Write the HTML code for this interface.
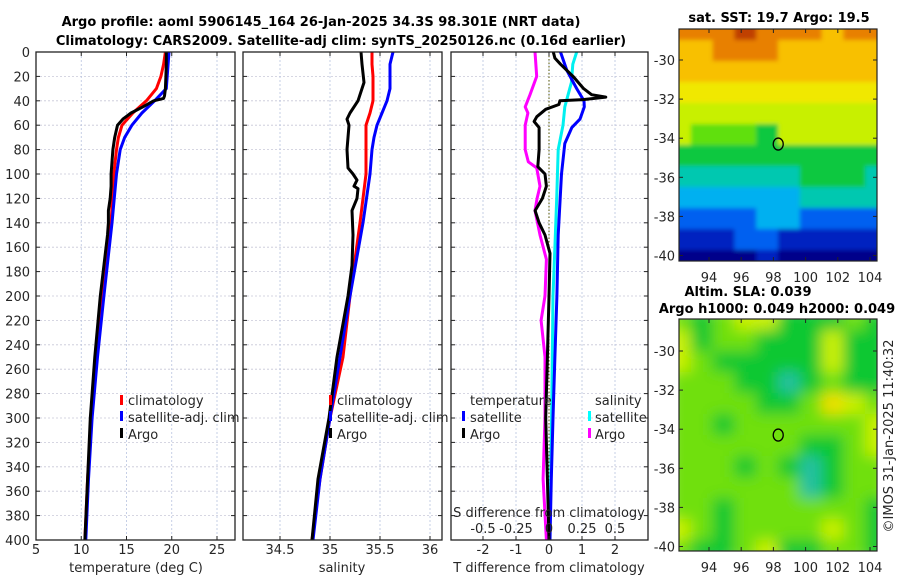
<!DOCTYPE html>
<html><head><meta charset="utf-8"><style>
body{margin:0;background:#fff}
svg{display:block;font-family:"DejaVu Sans","Liberation Sans",sans-serif}
</style></head><body>
<svg id="chart" width="900" height="580" viewBox="0 0 900 580" xmlns="http://www.w3.org/2000/svg">
<defs>
<filter id="blur" x="-5%" y="-5%" width="110%" height="110%"><feGaussianBlur stdDeviation="7"/></filter>
<filter id="blur2" x="-5%" y="-5%" width="110%" height="110%"><feGaussianBlur stdDeviation="2"/></filter>
<clipPath id="clipA"><rect x="679" y="29" width="198" height="232"/></clipPath>
<clipPath id="clipB"><rect x="679" y="319" width="198" height="232"/></clipPath>
</defs>
<g id="g"></g>
<g font-size="13" fill="#262626" font-family="DejaVu Sans, Liberation Sans, sans-serif">
<text x="321" y="26" text-anchor="middle" font-weight="bold" fill="#000">Argo profile: aoml 5906145_164 26-Jan-2025 34.3S 98.301E (NRT data)</text>
<text x="341" y="45" text-anchor="middle" font-weight="bold" fill="#000">Climatology: CARS2009. Satellite-adj clim: synTS_20250126.nc (0.16d earlier)</text>
<text x="136" y="572" text-anchor="middle">temperature (deg C)</text>
<text x="342" y="572" text-anchor="middle">salinity</text>
<text x="549" y="572" text-anchor="middle">T difference from climatology</text>
<text x="549" y="517" text-anchor="middle">S difference from climatology</text>
<g>
<rect x="120" y="395" width="3" height="10" fill="#f00"/><text x="128" y="405">climatology</text>
<rect x="120" y="411" width="3" height="10" fill="#00f"/><text x="128" y="422">satellite-adj. clim</text>
<rect x="120" y="428" width="3" height="10" fill="#000"/><text x="128" y="439">Argo</text>
</g>
<g>
<rect x="329" y="395" width="3" height="10" fill="#f00"/><text x="337" y="405">climatology</text>
<rect x="329" y="411" width="3" height="10" fill="#00f"/><text x="337" y="422">satellite-adj. clim</text>
<rect x="329" y="428" width="3" height="10" fill="#000"/><text x="337" y="439">Argo</text>
</g>
<g>
<text x="470" y="405">temperature</text>
<rect x="462" y="411" width="3" height="10" fill="#00f"/><text x="470" y="422">satellite</text>
<rect x="462" y="428" width="3" height="10" fill="#000"/><text x="470" y="439">Argo</text>
<text x="595" y="405">salinity</text>
<rect x="588" y="411" width="3" height="10" fill="#0ff"/><text x="595" y="422">satellite</text>
<rect x="588" y="428" width="3" height="10" fill="#f0f"/><text x="595" y="439">Argo</text>
</g>
<text x="779" y="22" text-anchor="middle" font-weight="bold" fill="#000">sat. SST: 19.7 Argo: 19.5</text>
<text x="748" y="296" text-anchor="middle" font-weight="bold" fill="#000">Altim. SLA: 0.039</text>
<text x="777" y="313" text-anchor="middle" font-weight="bold" fill="#000">Argo h1000: 0.049 h2000: 0.049</text>
<text x="893" y="436" text-anchor="middle" transform="rotate(-90 893 436)">©IMOS 31-Jan-2025 11:40:32</text>
</g>
</svg>
<script>
// ---- data ----
const depthTicks=[0,20,40,60,80,100,120,140,160,180,200,220,240,260,280,300,320,340,360,380,400];
const tempTicks=[5,10,15,20,25];
const salTicks=[34.5,35,35.5,36];
const tdiffTicks=[-2,-1,0,1,2];
const sdiffTicks=[-0.5,-0.25,0,0.25,0.5];
const sdiffLabels=["-0.5","-0.25","0","0.25","0.5"];
const lonTicks=[94,96,98,100,102,104];
const latTicks=[-30,-32,-34,-36,-38,-40];

const argoTDepth=[0,10,20,30,36,38,40,45,50,55,60,70,80,90,100,110,120,130,140,150,175,200,250,300,350,400];
const argoTemp=[19.4,19.4,19.35,19.3,19.2,19.1,18.0,16.8,15.5,14.6,14.0,13.7,13.5,13.4,13.3,13.3,13.2,13.0,13.0,12.9,12.5,12.1,11.5,11.0,10.7,10.4];
const climDepth=[0,10,20,30,40,50,60,70,80,100,140,200,250,300,350,400];
const climTemp=[19.3,19.1,18.8,18.3,17.2,15.7,14.5,14.1,13.9,13.6,13.3,12.4,11.7,11.1,10.7,10.4];
const satTemp=[19.7,19.6,19.5,19.4,18.1,16.7,15.6,14.8,14.3,13.9,13.4,12.5,11.8,11.2,10.8,10.5];

const argoSDepth=[0,10,25,40,50,55,60,80,95,100,105,110,112,120,130,150,175,200,250,300,350,400];
const argoSal=[35.31,35.32,35.34,35.28,35.20,35.17,35.19,35.17,35.18,35.23,35.27,35.24,35.28,35.27,35.22,35.23,35.22,35.18,35.07,34.99,34.88,34.82];
const climSal=[35.42,35.42,35.43,35.43,35.43,35.40,35.36,35.36,35.36,35.36,35.30,35.20,35.13,35.00,34.90,34.82];
const satSal=[35.63,35.60,35.60,35.60,35.57,35.52,35.47,35.44,35.42,35.40,35.33,35.20,35.10,35.00,34.90,34.83];

const argoTdDepth=[0,5,10,20,30,35,37,39,40,43,47,53,57,62,80,94,100,110,120,130,140,150,165,200,250,300,350,400];
const argoTdiff=[0.13,0.18,0.35,0.73,1.05,1.29,1.72,1.03,0.33,0.3,-0.1,-0.37,-0.45,-0.3,-0.3,-0.34,-0.12,-0.08,-0.2,-0.42,-0.3,-0.12,0.03,0.0,-0.05,-0.1,-0.05,0.0];
const satTdDepth=[0,15,30,40,45,55,62,75,100,150,200,250,300,350,400];
const satTdiff=[0.35,0.54,0.84,1.06,1.07,0.94,0.69,0.48,0.38,0.28,0.24,0.18,0.12,0.07,0.03];
const satSdDepth=[0,10,25,35,45,60,80,120,160,200,300,400];
const satSdiff=[0.21,0.18,0.17,0.145,0.12,0.106,0.07,0.058,0.045,0.03,0.02,0.005];
const argoSdDepth=[0,20,35,45,50,60,80,90,95,110,120,130,150,170,200,220,250,300,350,400];
const argoSdiff=[-0.106,-0.093,-0.144,-0.18,-0.16,-0.18,-0.18,-0.157,-0.093,-0.068,-0.09,-0.106,-0.068,-0.02,-0.03,-0.06,-0.03,-0.03,-0.045,-0.02];

const sstGrid=[
[0.88,0.9,0.92,0.95,0.93,0.9,0.88,0.87,0.88,0.88],
[0.86,0.87,0.88,0.9,0.88,0.87,0.86,0.85,0.85,0.86],
[0.82,0.83,0.84,0.84,0.83,0.83,0.85,0.86,0.82,0.8],
[0.75,0.78,0.77,0.76,0.75,0.75,0.72,0.72,0.74,0.75],
[0.7,0.7,0.69,0.68,0.68,0.66,0.66,0.68,0.68,0.7],
[0.66,0.64,0.64,0.62,0.58,0.66,0.66,0.66,0.66,0.66],
[0.52,0.52,0.52,0.52,0.52,0.52,0.55,0.52,0.52,0.52],
[0.45,0.45,0.47,0.48,0.48,0.5,0.52,0.52,0.52,0.5],
[0.38,0.38,0.4,0.4,0.42,0.42,0.45,0.45,0.47,0.45],
[0.3,0.32,0.35,0.36,0.38,0.38,0.36,0.32,0.3,0.3],
[0.22,0.22,0.26,0.28,0.3,0.26,0.2,0.18,0.2,0.24],
[0.12,0.12,0.12,0.14,0.15,0.14,0.12,0.12,0.12,0.12]];
const slaGrid=[
[0.6,0.4,0.55,0.75,0.75,0.45,0.4,0.45,0.5,0.35],
[0.7,0.45,0.5,0.6,0.45,0.3,0.45,0.7,0.45,0.4],
[0.65,0.6,0.45,0.35,0.3,0.3,0.4,0.75,0.45,0.4],
[0.6,0.6,0.55,0.45,0.35,0.2,0.35,0.5,0.4,0.45],
[0.6,0.6,0.6,0.55,0.45,0.35,0.5,0.9,0.65,0.55],
[0.6,0.55,0.45,0.55,0.5,0.5,0.5,0.6,0.6,0.7],
[0.55,0.6,0.55,0.55,0.55,0.5,0.35,0.4,0.6,0.65],
[0.6,0.6,0.5,0.45,0.55,0.45,0.2,0.3,0.55,0.6],
[0.6,0.6,0.55,0.5,0.5,0.5,0.25,0.35,0.5,0.55],
[0.6,0.5,0.45,0.6,0.55,0.55,0.5,0.6,0.5,0.35],
[0.75,0.55,0.35,0.55,0.6,0.55,0.6,0.7,0.5,0.3],
[0.55,0.4,0.45,0.6,0.65,0.45,0.4,0.55,0.55,0.45]];
const argoLon=98.3, argoLat=-34.3;

// ---- helpers ----
const NS="http://www.w3.org/2000/svg";
const G=document.getElementById('g');
function mk(tag,attrs,parent){const e=document.createElementNS(NS,tag);for(const k in attrs)e.setAttribute(k,attrs[k]);(parent||G).appendChild(e);return e;}
function txt(x,y,s,attrs,parent){const e=mk('text',Object.assign({x:x,y:y,'font-size':13,fill:'#262626'},attrs||{}),parent);e.textContent=s;return e;}

const yD=d=>52+d*1.22;
const xT=t=>36+(t-5)*9.05;
const xS=s=>243+(s-34.13)*100;
const xTd=t=>549+t*33;
const xSd=s=>549+s*132;
const PY0=52,PY1=540;
const panels=[{x0:36,x1:235},{x0:243,x1:442},{x0:451,x1:648}];

function vgrid(x){const l=mk('line',{x1:x,x2:x,y1:PY0,y2:PY1,stroke:'#b8c4e0','stroke-width':0.8,'stroke-dasharray':'2,2'});

}
panels.forEach(p=>{depthTicks.forEach(d=>{const l=mk('line',{x1:p.x0,x2:p.x1,y1:yD(d),y2:yD(d),stroke:'#c8c8d8','stroke-width':0.8,'stroke-dasharray':'2,2'});

});});
tempTicks.forEach(t=>vgrid(xT(t)));
salTicks.forEach(s=>vgrid(xS(s)));
tdiffTicks.forEach(t=>vgrid(xTd(t)));
const zl=mk('line',{x1:549,x2:549,y1:PY0,y2:PY1,stroke:'#555500','stroke-width':1,'stroke-dasharray':'1.5,2'});



function line(xs,ds,fx,color,name){const pts=xs.map((v,i)=>fx(v).toFixed(1)+','+yD(ds[i]).toFixed(1)).join(' ');
const e=mk('polyline',{points:pts,fill:'none',stroke:color,'stroke-width':3,'stroke-linejoin':'round'});

}
line(climTemp,climDepth,xT,'#ff0000','temp-climatology-line');
line(satTemp,climDepth,xT,'#0000ff','temp-satellite-line');
line(argoTemp,argoTDepth,xT,'#000','temp-argo-line');
line(climSal,climDepth,xS,'#ff0000','sal-climatology-line');
line(satSal,climDepth,xS,'#0000ff','sal-satellite-line');
line(argoSal,argoSDepth,xS,'#000','sal-argo-line');
line(satSdiff,satSdDepth,xSd,'#00f0f0','sdiff-satellite-line');
line(argoSdiff,argoSdDepth,xSd,'#ff00ff','sdiff-argo-line');
line(satTdiff,satTdDepth,xTd,'#0000ff','tdiff-satellite-line');
line(argoTdiff,argoTdDepth,xTd,'#000','tdiff-argo-line');

panels.forEach((p,i)=>{const r=mk('rect',{x:p.x0,y:PY0,width:p.x1-p.x0,height:PY1-PY0,fill:'none',stroke:'#222','stroke-width':1.3});


depthTicks.forEach(d=>{mk('line',{x1:p.x0,x2:p.x0+4,y1:yD(d),y2:yD(d),stroke:'#222'});mk('line',{x1:p.x1-4,x2:p.x1,y1:yD(d),y2:yD(d),stroke:'#222'});});});
depthTicks.forEach(d=>{const t=txt(30,yD(d)+5,String(d),{'text-anchor':'end'});

});
function xticks(vals,fx,labels){vals.forEach((v,i)=>{mk('line',{x1:fx(v),x2:fx(v),y1:PY1-4,y2:PY1,stroke:'#222'});mk('line',{x1:fx(v),x2:fx(v),y1:PY0,y2:PY0+4,stroke:'#222'});
const t=txt(fx(v),554,labels?labels[i]:String(v),{'text-anchor':'middle'});

});}
xticks(tempTicks,xT);xticks(salTicks,xS);xticks(tdiffTicks,xTd);
sdiffTicks.forEach((v,i)=>{const t=txt(xSd(v),533,sdiffLabels[i],{'text-anchor':'middle'});

});

// ---- maps ----
const sstStops=[[0,'#00008a'],[0.15,'#0020c0'],[0.28,'#0060f0'],[0.38,'#00b0f0'],[0.45,'#00c8b0'],[0.52,'#10c840'],[0.6,'#60e010'],[0.66,'#c8f000'],[0.72,'#f0e800'],[0.8,'#f8c000'],[0.88,'#e88000'],[0.95,'#c04000']];
const slaStops=[[0,'#20c0a0'],[0.3,'#10c830'],[0.5,'#70e010'],[0.65,'#c8f000'],[0.8,'#f0e000'],[0.95,'#f0a000']];
function cmap(stops,v){let best=stops[0][1];for(const s of stops){if(v>=s[0])best=s[1];}return best;}
function drawMap(grid,stops,x0,y0,w,h,parent,name){const R=grid.length,C=grid[0].length;
grid.forEach((row,r)=>row.forEach((v,c)=>{const e=mk('rect',{x:(x0+c*w/C).toFixed(1),y:(y0+r*h/R).toFixed(1),width:(w/C+0.6).toFixed(1),height:(h/R+0.6).toFixed(1),fill:cmap(stops,v)},parent);

}));}
const maps=[{y0:29,lat30:60,name:'sst'},{y0:319,lat30:351,name:'sla'}];
const lonX=l=>709+(l-94)*16.1;
const clipA=mk('g',{'clip-path':'url(#clipA)'});
const blurA=mk('g',{filter:'url(#blur2)'},clipA);
drawMap(sstGrid,sstStops,669,19,218,252,blurA,'sst-cell');
const clipG=mk('g',{'clip-path':'url(#clipB)'});
const blurG=mk('g',{filter:'url(#blur)'},clipG);
drawMap(slaGrid,slaStops,669,309,218,252,blurG,'sla-cell');
maps.forEach(m=>{const latY=l=>m.lat30+(-30-l)*19.55;
const f=mk('rect',{x:679,y:m.y0,width:198,height:232,fill:'none',stroke:'#222','stroke-width':1.2});


latTicks.forEach(l=>{const y=latY(l);mk('line',{x1:679,x2:683,y1:y,y2:y,stroke:'#222'});mk('line',{x1:873,x2:877,y1:y,y2:y,stroke:'#222'});
const t=txt(675,y+5,String(l),{'text-anchor':'end'});

});
lonTicks.forEach(l=>{const x=lonX(l);mk('line',{x1:x,x2:x,y1:m.y0+228,y2:m.y0+232,stroke:'#222'});mk('line',{x1:x,x2:x,y1:m.y0,y2:m.y0+4,stroke:'#222'});
const t=txt(x,m.y0+253,String(l),{'text-anchor':'middle'});

});
const c=mk('ellipse',{cx:lonX(argoLon),cy:latY(argoLat),rx:5,ry:6,fill:'none',stroke:'#000','stroke-width':1.3});

});
</script>
</body></html>
